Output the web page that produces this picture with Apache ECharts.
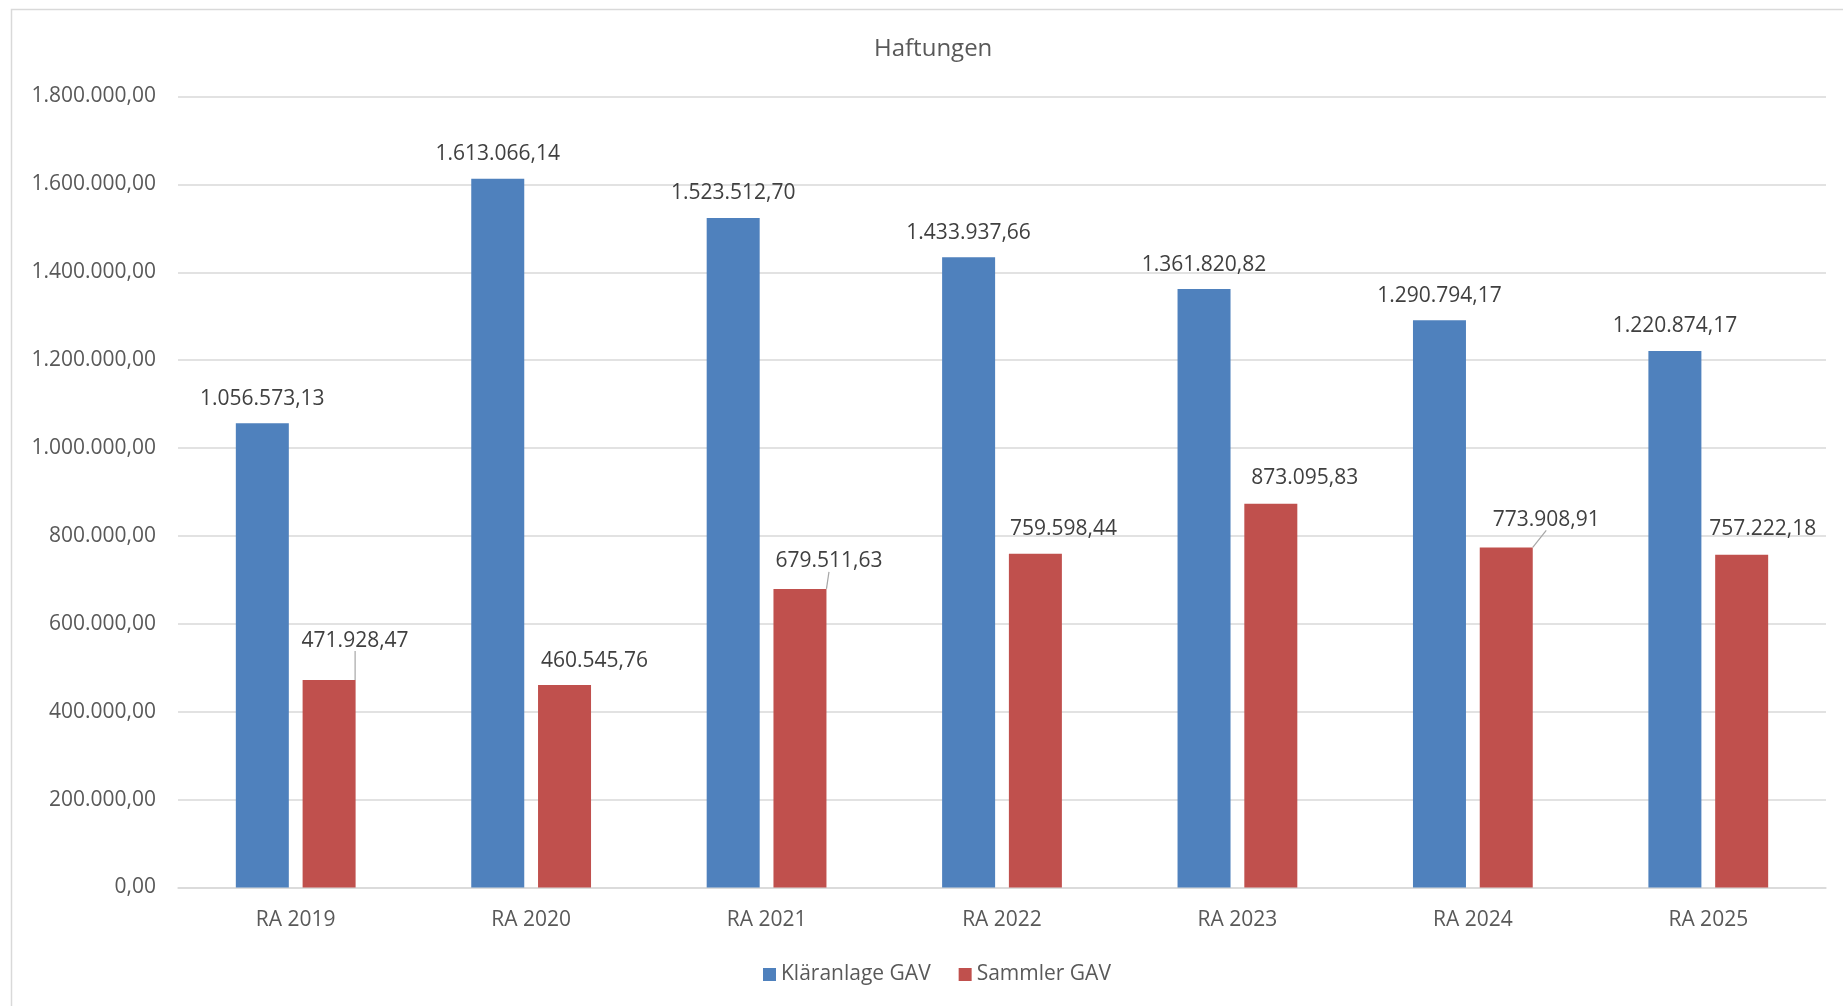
<!DOCTYPE html>
<html>
<head>
<meta charset="utf-8">
<script src="https://cdn.jsdelivr.net/npm/echarts@6/dist/echarts.min.js"></script>
<style>
html,body{margin:0;padding:0;background:#fff;}
#c{width:1843px;height:1006px;}
</style>
</head>
<body>
<div id="c"></div>
<script>
const categories = ['RA 2019','RA 2020','RA 2021','RA 2022','RA 2023','RA 2024','RA 2025'];
const klaeranlage = [1056573.13, 1613066.14, 1523512.70, 1433937.66, 1361820.82, 1290794.17, 1220874.17];
const sammler = [471928.47, 460545.76, 679511.63, 759598.44, 873095.83, 773908.91, 757222.18];
const yTicks = { min: 0, max: 1800000, interval: 200000 };
const seriesNames = ['Kläranlage GAV', 'Sammler GAV'];

// label placement tweaks for the red series (pixels), like the Excel chart
const redLabelDx = [26, 30, 29, 28, 34, 40, 21];
const redLabelDy = [-15, 0, -3, 0, -1, -3, -1];
const redLabelLine = [true, false, true, false, false, true, false];

function fmt(v) {
  const fixed = Math.abs(v).toFixed(2);
  let [intPart, dec] = fixed.split('.');
  intPart = intPart.replace(/\B(?=(\d{3})+(?!\d))/g, '.');
  return (v < 0 ? '-' : '') + intPart + ',' + dec;
}

const FONT = '"Open Sans", "Liberation Sans", sans-serif';
const chart = echarts.init(document.getElementById('c'), null, { renderer: 'canvas' });

chart.setOption({
  animation: false,
  backgroundColor: '#ffffff',
  graphic: [{
    type: 'rect',
    shape: { x: 11.5, y: 9.5, width: 1900, height: 1100 },
    style: { fill: 'none', stroke: '#d9d9d9', lineWidth: 1.5 },
    silent: true, z: -1
  }],
  title: {
    text: 'Haftungen',
    left: 874,
    top: 37,
    padding: 0,
    textStyle: { fontFamily: FONT, fontSize: 24, fontWeight: 'normal', color: '#595959' }
  },
  legend: {
    data: seriesNames,
    left: 763,
    top: 964,
    itemWidth: 13,
    itemHeight: 13,
    itemGap: 28,
    padding: 0,
    icon: 'rect',
    textStyle: { fontFamily: FONT, fontSize: 21, color: '#595959', padding: [0, 0, 0, 0] }
  },
  grid: { left: 178, right: 17, top: 96.5, bottom: 118.5, containLabel: false },
  xAxis: {
    type: 'category',
    data: categories,
    axisLine: { lineStyle: { color: '#d9d9d9', width: 1.5 } },
    axisTick: { show: false },
    axisLabel: { fontFamily: FONT, fontSize: 21, color: '#595959', margin: 22 }
  },
  yAxis: {
    type: 'value',
    min: yTicks.min, max: yTicks.max, interval: yTicks.interval,
    axisLine: { show: false },
    axisTick: { show: false },
    splitLine: { lineStyle: { color: '#d9d9d9', width: 1.5 } },
    axisLabel: { fontFamily: FONT, fontSize: 21, color: '#595959', margin: 22, formatter: v => fmt(v) }
  },
  series: [
    {
      name: seriesNames[0],
      type: 'bar',
      data: klaeranlage,
      barWidth: 53,
      barGap: '26%',
      itemStyle: { color: '#4f81bd' },
      label: {
        show: true, position: 'top', distance: 14,
        fontFamily: FONT, fontSize: 21, color: '#404040',
        formatter: p => fmt(p.value)
      }
    },
    {
      name: seriesNames[1],
      type: 'bar',
      data: sammler.map((v, i) => ({ value: v, labelLine: { show: redLabelLine[i] } })),
      barWidth: 53,
      barGap: '26%',
      itemStyle: { color: '#c0504d' },
      label: {
        show: true, position: 'top', distance: 14,
        fontFamily: FONT, fontSize: 21, color: '#404040',
        formatter: p => fmt(p.value)
      },
      labelLine: { show: false, lineStyle: { color: '#a6a6a6', width: 1.2 } },
      labelLayout: p => ({ dx: redLabelDx[p.dataIndex], dy: redLabelDy[p.dataIndex] })
    }
  ]
});
</script>
</body>
</html>
